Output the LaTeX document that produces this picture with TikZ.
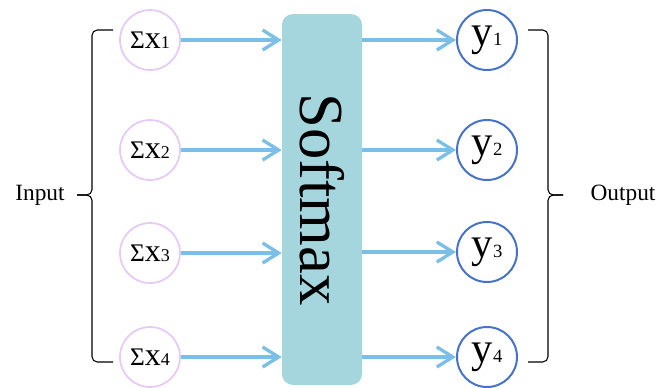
\documentclass[tikz,border=0pt]{standalone}
\usepackage{fontspec}
\setmainfont{Liberation Serif}
\usetikzlibrary{arrows.meta,positioning}
\definecolor{softteal}{HTML}{A5D6DD}
\definecolor{arrowblue}{HTML}{7CBFE6}
\definecolor{lilac}{HTML}{E6C9F7}
\definecolor{outblue}{HTML}{4673C8}
\newcommand{\sumx}[1]{{\fontsize{19}{19}\selectfont Σ}{\fontsize{24}{24}\selectfont x}{\fontsize{13.5}{13.5}\selectfont #1}}
\newcommand{\outy}[1]{{\fontsize{32}{32}\selectfont y}{\fontsize{14}{14}\selectfont #1}}

\begin{document}
\begin{tikzpicture}[x=0.75pt, y=-0.75pt,
        innode/.style={circle, draw=lilac, line width=1.3pt, minimum size=45pt, inner sep=0pt},
        outnode/.style={circle, draw=outblue, line width=1.5pt, minimum size=45pt, inner sep=0pt},
        softbox/.style={fill=softteal, rounded corners=8pt, minimum width=60pt,
                        minimum height=278pt, inner sep=0pt},
        arrow/.style={draw=arrowblue, line width=2.5pt, -{Straight Barb[length=12pt,width=15pt]}},
        brace/.style={draw=black, line width=0.8pt, rounded corners=4pt},
        lbl/.style={font=\fontsize{17.5}{20}\selectfont}
    ]
        \useasboundingbox (0,0) rectangle (659,387);

        \node[softbox] (soft) at (322,199.5) {\rotatebox{-90}{\fontsize{47}{47}\selectfont Softmax}};

        \node[innode] (in1) at (150,40) {\sumx{1}};
        \node[innode] (in2) at (150,150) {\sumx{2}};
        \node[innode] (in3) at (150,253) {\sumx{3}};
        \node[innode] (in4) at (150,357) {\sumx{4}};

        \node[outnode] (out1) at (487,40) {\outy{1}};
        \node[outnode] (out2) at (487,150) {\outy{2}};
        \node[outnode] (out3) at (487,252) {\outy{3}};
        \node[outnode] (out4) at (487,357) {\outy{4}};

        \draw[arrow] (in1) -- (in1 -| soft.west);
        \draw[arrow] (in2) -- (in2 -| soft.west);
        \draw[arrow] (in3) -- (in3 -| soft.west);
        \draw[arrow] (in4) -- (in4 -| soft.west);

        \draw[arrow] (out1 -| soft.east) -- (out1);
        \draw[arrow] (out2 -| soft.east) -- (out2);
        \draw[arrow] (out3 -| soft.east) -- (out3);
        \draw[arrow] (out4 -| soft.east) -- (out4);

        % braces
        \draw[brace] (113,30) -| (92,195) -- (77,195);
        \draw[brace] (77,195) -| (92,362) -- (113,362);
        \draw[brace] (528,30) -| (548,195) -- (563,195);
        \draw[brace] (563,195) -| (548,362) -- (528,362);

        \node[lbl] (inlabel) at (40,195) {Input};
        \node[lbl] (outlabel) at (623,195) {Output};
    \end{tikzpicture}
\end{document}
